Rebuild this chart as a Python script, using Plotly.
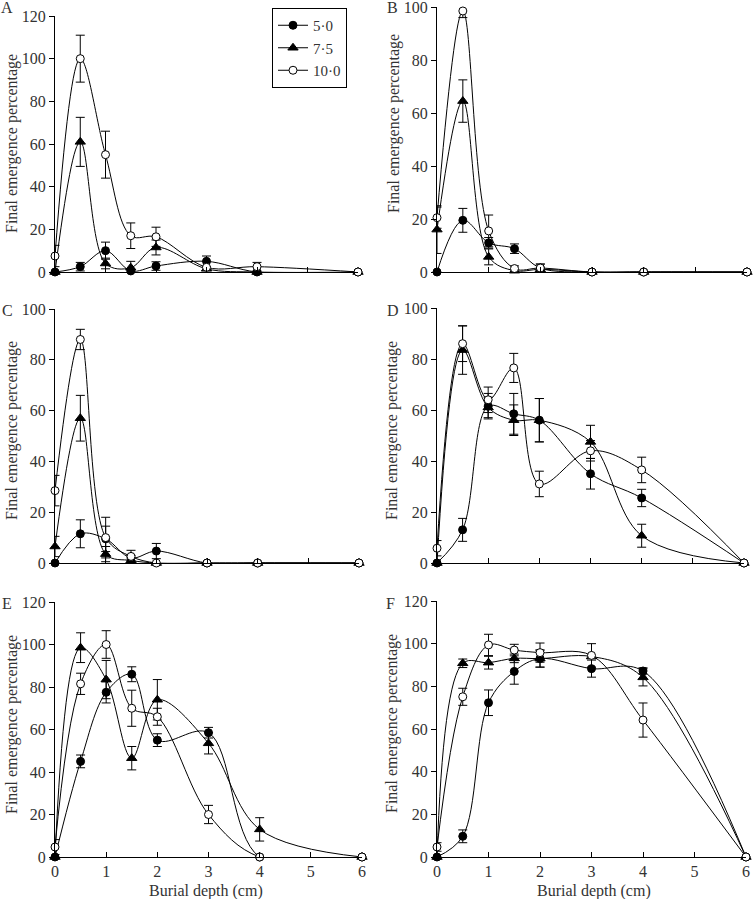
import plotly.graph_objects as go

# ---------------- data ----------------
depth = [0, 0.5, 1, 1.5, 2, 3, 4, 6]
series_names = ["5·0", "7·5", "10·0"]
x_tick_vals = [0, 1, 2, 3, 4, 5, 6]
y_ticks_120 = [0, 20, 40, 60, 80, 100, 120]
y_ticks_100 = [0, 20, 40, 60, 80, 100]
panel_letters = ["A", "B", "C", "D", "E", "F"]
y_title = "Final emergence percentage"
x_title = "Burial depth (cm)"

A_5_0 = [0, 2.5, 10, 0.5, 2.8, 5, 0, 0]
A_5_0_err = [0, 2, 4, 0, 2, 2.5, 0, 0]
A_7_5 = [0, 61, 4, 2, 11.5, 1.5, 0, 0]
A_7_5_err = [0, 11.5, 2.5, 3, 3.5, 0, 0, 0]
A_10_0 = [7.5, 100, 55, 17, 16.5, 2.2, 2.5, 0]
A_10_0_err = [5, 11, 11, 6, 4.5, 0, 2, 0]

B_5_0 = [0, 19.5, 11, 8.8, 1.5, 0, 0, 0]
B_5_0_err = [0, 4.5, 2, 1.8, 1.5, 0, 0, 0]
B_7_5 = [16, 64.5, 5.7, 0.5, 1, 0, 0, 0]
B_7_5_err = [9, 8, 3, 0, 0, 0, 0, 0]
B_10_0 = [20.5, 98.5, 15.5, 1.3, 1.5, 0, 0, 0]
B_10_0_err = [4, 2.5, 6, 1, 1.5, 0, 0, 0]

C_5_0 = [0, 11.5, 9.5, 2, 4.7, 0, 0, 0]
C_5_0_err = [0, 5.5, 5, 1, 3, 0, 0, 0]
C_7_5 = [6.5, 57, 3.5, 1, 0, 0, 0, 0]
C_7_5_err = [4, 9, 3, 0, 0, 0, 0, 0]
C_10_0 = [28.5, 88, 10, 2.6, 0, 0, 0, 0]
C_10_0_err = [6, 4, 8, 2.4, 0, 0, 0, 0]

D_5_0 = [0, 13, 61.5, 58.5, 56, 35, 25.5, 0]
D_5_0_err = [0, 4.5, 5, 8, 8.5, 6, 3.4, 0]
D_7_5 = [0, 83.5, 61, 56, 56, 47.5, 10.7, 0]
D_7_5_err = [0, 9.5, 4, 6, 8.5, 6.5, 4.5, 0]
D_10_0 = [5.8, 86, 64, 76.5, 31, 44, 36.5, 0]
D_10_0_err = [3, 7, 5, 5.7, 5, 4, 5, 0]

E_5_0 = [0, 45, 77.5, 86, 55, 58.5, 0, 0]
E_5_0_err = [0, 3, 5, 3.5, 3, 2.5, 0, 0]
E_7_5 = [0, 98.5, 83.5, 46.5, 74, 53.5, 13, 0]
E_7_5_err = [0, 7, 9, 5.5, 9.5, 5, 5.5, 0]
E_10_0 = [4.7, 81.5, 100, 70, 66, 20, 0, 0]
E_10_0_err = [3.5, 5, 6.5, 8.5, 4, 4.3, 0, 0]

F_5_0 = [0, 9.7, 72.3, 87, 93, 88.3, 87.2, 0]
F_5_0_err = [0, 3, 6, 6, 4, 4, 1.5, 0]
F_7_5 = [0, 90.8, 91.1, 93.1, 93, 94, 84.2, 0]
F_7_5_err = [0, 2, 3, 2, 4, 0, 4, 0]
F_10_0 = [4.7, 75.1, 99.4, 97, 95.8, 94.5, 64.2, 0]
F_10_0_err = [2, 4, 5, 2.7, 4.5, 5.5, 8, 0]

panel_values = [
    [A_5_0, A_7_5, A_10_0],
    [B_5_0, B_7_5, B_10_0],
    [C_5_0, C_7_5, C_10_0],
    [D_5_0, D_7_5, D_10_0],
    [E_5_0, E_7_5, E_10_0],
    [F_5_0, F_7_5, F_10_0],
]
panel_errors = [
    [A_5_0_err, A_7_5_err, A_10_0_err],
    [B_5_0_err, B_7_5_err, B_10_0_err],
    [C_5_0_err, C_7_5_err, C_10_0_err],
    [D_5_0_err, D_7_5_err, D_10_0_err],
    [E_5_0_err, E_7_5_err, E_10_0_err],
    [F_5_0_err, F_7_5_err, F_10_0_err],
]
panel_ymax = [120, 100, 100, 100, 120, 120]

# ---------------- layout geometry (pixels) ----------------
W, H = 754, 899
# (x0, x1, ytop, ybottom) of each plotting area in pixels
boxes = [
    (55, 358, 16, 272),
    (437, 747, 7, 272),
    (55, 359, 309, 563),
    (437, 744, 308, 563),
    (55, 362, 602, 857),
    (437, 746, 601, 857),
]
letter_pos = [(7, 8), (392, 8), (7, 310), (393, 310), (7, 603), (390, 603)]
ytitle_pos = [(12, 144), (394, 124), (12, 431), (392, 431), (12, 725), (392, 724)]
xtitle_pos = [(206, 891), (594, 891)]

FONT = "Liberation Serif"
TXT = "#333333"

marker_styles = [
    dict(symbol="circle", size=8, color="black", line=dict(color="black", width=1)),
    dict(symbol="triangle-up", size=9, color="black", line=dict(color="black", width=1)),
    dict(symbol="circle", size=8, color="white", line=dict(color="black", width=1)),
]

fig = go.Figure()

for p in range(6):
    xa = "x" if p == 0 else f"x{p+1}"
    ya = "y" if p == 0 else f"y{p+1}"
    # error bars underneath
    for s in range(3):
        vals = panel_values[p][s]
        errs = panel_errors[p][s]
        ex = [d for d, e in zip(depth, errs) if e > 0]
        ey = [v for v, e in zip(vals, errs) if e > 0]
        ee = [e for e in errs if e > 0]
        fig.add_trace(go.Scatter(
            x=ex, y=ey, mode="markers", xaxis=xa, yaxis=ya,
            marker=dict(size=1, color="rgba(0,0,0,0)"),
            error_y=dict(type="data", array=ee, color="black", thickness=1, width=4.5),
            showlegend=False, hoverinfo="skip", cliponaxis=False,
        ))
    for s in range(3):
        fig.add_trace(go.Scatter(
            x=depth, y=panel_values[p][s], mode="lines+markers",
            xaxis=xa, yaxis=ya, name=series_names[s],
            line=dict(color="black", width=1, shape="spline", smoothing=1),
            marker=marker_styles[s],
            showlegend=(p == 0),
            cliponaxis=False,
        ))

layout = dict(
    template="none",
    width=W, height=H,
    margin=dict(l=0, r=0, t=0, b=0, pad=0, autoexpand=False),
    paper_bgcolor="white", plot_bgcolor="white",
    font=dict(family=FONT, size=16, color=TXT),
    showlegend=True,
    legend=dict(
        x=272 / W, y=1 - 8 / H, xanchor="left", yanchor="top",
        bordercolor="black", borderwidth=1, bgcolor="white",
        font=dict(family=FONT, size=15, color=TXT),
        itemwidth=30,
    ),
)

for p in range(6):
    x0, x1, yt, yb = boxes[p]
    sfx = "" if p == 0 else str(p + 1)
    bottom = p >= 4
    layout["xaxis" + sfx] = dict(
        domain=[x0 / W, x1 / W], range=[0, 6],
        anchor="y" + sfx, automargin=False,
        showline=True, linecolor="black", linewidth=1,
        ticks="inside", ticklen=5, tickcolor="black", tickwidth=1,
        tickvals=x_tick_vals, showticklabels=bottom,
        ticklabeloverflow="allow",
        tickfont=dict(family=FONT, size=16, color=TXT),
        showgrid=False, zeroline=False, fixedrange=True,
    )
    layout["yaxis" + sfx] = dict(
        domain=[1 - yb / H, 1 - yt / H], range=[0, panel_ymax[p]],
        anchor="x" + sfx, automargin=False,
        showline=True, linecolor="black", linewidth=1,
        ticks="outside", ticklen=5, tickcolor="black", tickwidth=1,
        tickvals=y_ticks_120 if panel_ymax[p] == 120 else y_ticks_100,
        ticklabeloverflow="allow",
        tickfont=dict(family=FONT, size=16, color=TXT),
        showgrid=False, zeroline=False, fixedrange=True,
    )

annotations = []
for p in range(6):
    lx, ly = letter_pos[p]
    annotations.append(dict(
        text=panel_letters[p], x=lx / W, y=1 - ly / H, xref="paper", yref="paper",
        showarrow=False, xanchor="center", yanchor="middle",
        font=dict(family=FONT, size=16, color=TXT),
    ))
    tx, ty = ytitle_pos[p]
    annotations.append(dict(
        text=y_title, x=tx / W, y=1 - ty / H, xref="paper", yref="paper",
        showarrow=False, xanchor="center", yanchor="middle", textangle=-90,
        font=dict(family=FONT, size=16, color=TXT),
    ))
for tx, ty in xtitle_pos:
    annotations.append(dict(
        text=x_title, x=tx / W, y=1 - ty / H, xref="paper", yref="paper",
        showarrow=False, xanchor="center", yanchor="middle",
        font=dict(family=FONT, size=16, color=TXT),
    ))
layout["annotations"] = annotations

fig.update_layout(**layout)
fig.write_html(
    "out.html",
    config={"displayModeBar": False},
    post_script="document.body.style.margin='0px';document.body.style.overflow='hidden';",
)
